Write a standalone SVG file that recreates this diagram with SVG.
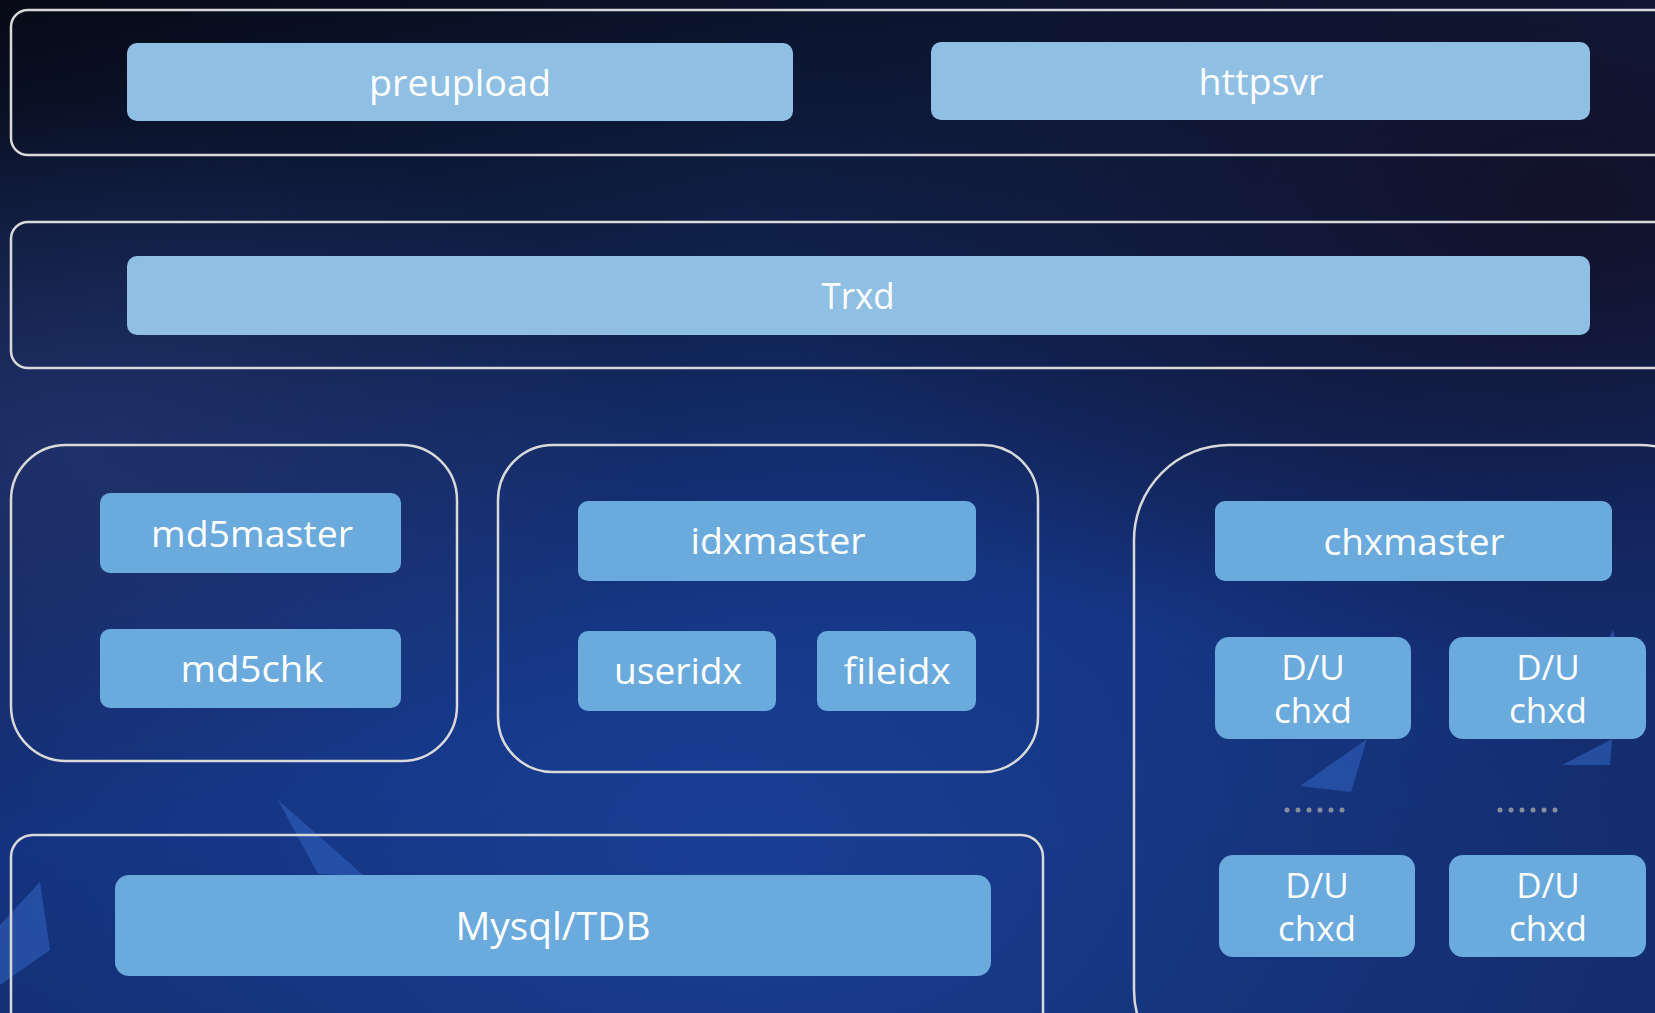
<svg xmlns="http://www.w3.org/2000/svg" width="1655" height="1013" viewBox="0 0 1655 1013">
<defs>
<linearGradient id="bg" x1="0" y1="0" x2="0.35" y2="1">
<stop offset="0" stop-color="#070a16"/>
<stop offset="0.35" stop-color="#0f2048"/>
<stop offset="0.75" stop-color="#13307a"/>
<stop offset="1" stop-color="#142d6c"/>
</linearGradient>
<radialGradient id="glow" cx="0.45" cy="0.85" r="0.55">
<stop offset="0" stop-color="#1a44a0" stop-opacity="0.75"/>
<stop offset="1" stop-color="#1a44a0" stop-opacity="0"/>
</radialGradient>
<radialGradient id="glow2" cx="0.05" cy="0.45" r="0.35">
<stop offset="0" stop-color="#2a3a7a" stop-opacity="0.6"/>
<stop offset="1" stop-color="#2a3a7a" stop-opacity="0"/>
</radialGradient>
<radialGradient id="dark" cx="0.95" cy="0.2" r="0.5">
<stop offset="0" stop-color="#120f24" stop-opacity="0.9"/>
<stop offset="1" stop-color="#120f24" stop-opacity="0"/>
</radialGradient>
<style>
.frame{fill:none;stroke:#d9d9d9;stroke-width:2.5}
.lt{fill:#8fc0e4}
.md{fill:#6aaadc}
.t{font-family:"Open Sans","Noto Sans","Liberation Sans",sans-serif;fill:#ffffff;text-anchor:middle}
.deco{fill:#2b58b0;opacity:0.75}
.dot{fill:#8a8f9c}
</style>
</defs>
<rect width="1655" height="1013" fill="url(#bg)"/>
<rect width="1655" height="1013" fill="url(#glow)"/>
<rect width="1655" height="1013" fill="url(#glow2)"/>
<rect width="1655" height="1013" fill="url(#dark)"/>
<g id="decor">
<polygon class="deco" points="278,800 318,874 364,876"/>
<polygon class="deco" points="40,882 50,950 0,985 0,925"/>
<polygon class="deco" points="1367,739 1300,786 1351,792"/>
<polygon class="deco" points="1612,739 1562,765 1610,765"/>
<polygon class="deco" points="1613,630 1608,640 1616,640"/>
</g>
<g id="layer-top">
<rect class="frame" x="11" y="10" width="1660" height="145" rx="17"/>
</g>
<g id="preupload">
<rect class="lt" x="127" y="43" width="666" height="78" rx="10"/>
<text class="t" x="460" y="96" font-size="36" textLength="182" lengthAdjust="spacingAndGlyphs">preupload</text>
</g>
<g id="httpsvr">
<rect class="lt" x="931" y="42" width="659" height="78" rx="10"/>
<text class="t" x="1261" y="95" font-size="36" textLength="125" lengthAdjust="spacingAndGlyphs">httpsvr</text>
</g>
<g id="layer-trxd">
<rect class="frame" x="11" y="222" width="1660" height="146" rx="17"/>
</g>
<g id="trxd">
<rect class="lt" x="127" y="256" width="1463" height="79" rx="10"/>
<text class="t" x="858" y="309" font-size="36" textLength="73" lengthAdjust="spacingAndGlyphs">Trxd</text>
</g>
<g id="group-md5">
<rect class="frame" x="11" y="445" width="446" height="316" rx="55"/>
</g>
<g id="md5master">
<rect class="md" x="100" y="493" width="301" height="80" rx="10"/>
<text class="t" x="252" y="547" font-size="36" textLength="202" lengthAdjust="spacingAndGlyphs">md5master</text>
</g>
<g id="md5chk">
<rect class="md" x="100" y="629" width="301" height="79" rx="10"/>
<text class="t" x="252" y="682" font-size="36" textLength="143" lengthAdjust="spacingAndGlyphs">md5chk</text>
</g>
<g id="group-idx">
<rect class="frame" x="498" y="445" width="540" height="327" rx="55"/>
</g>
<g id="idxmaster">
<rect class="md" x="578" y="501" width="398" height="80" rx="10"/>
<text class="t" x="778" y="554" font-size="36" textLength="175" lengthAdjust="spacingAndGlyphs">idxmaster</text>
</g>
<g id="useridx">
<rect class="md" x="578" y="631" width="198" height="80" rx="10"/>
<text class="t" x="678" y="684" font-size="36" textLength="128" lengthAdjust="spacingAndGlyphs">useridx</text>
</g>
<g id="fileidx">
<rect class="md" x="817" y="631" width="159" height="80" rx="10"/>
<text class="t" x="897" y="684" font-size="36" textLength="107" lengthAdjust="spacingAndGlyphs">fileidx</text>
</g>
<g id="group-chx">
<rect class="frame" x="1134" y="445" width="600" height="640" rx="95"/>
</g>
<g id="chxmaster">
<rect class="md" x="1215" y="501" width="397" height="80" rx="10"/>
<text class="t" x="1414" y="555" font-size="36" textLength="181" lengthAdjust="spacingAndGlyphs">chxmaster</text>
</g>
<g id="chxd-1">
<rect class="md" x="1215" y="637" width="196" height="102" rx="14"/>
<text class="t" x="1313" y="680" font-size="35">D/U</text>
<text class="t" x="1313" y="723" font-size="35">chxd</text>
</g>
<g id="chxd-2">
<rect class="md" x="1449" y="637" width="197" height="102" rx="14"/>
<text class="t" x="1548" y="680" font-size="35">D/U</text>
<text class="t" x="1548" y="723" font-size="35">chxd</text>
</g>
<g id="dots">
<circle class="dot" cx="1287" cy="810" r="2.5"/><circle class="dot" cx="1298" cy="810" r="2.5"/><circle class="dot" cx="1309" cy="810" r="2.5"/><circle class="dot" cx="1320" cy="810" r="2.5"/><circle class="dot" cx="1331" cy="810" r="2.5"/><circle class="dot" cx="1342" cy="810" r="2.5"/>
<circle class="dot" cx="1500" cy="810" r="2.5"/><circle class="dot" cx="1511" cy="810" r="2.5"/><circle class="dot" cx="1522" cy="810" r="2.5"/><circle class="dot" cx="1533" cy="810" r="2.5"/><circle class="dot" cx="1544" cy="810" r="2.5"/><circle class="dot" cx="1555" cy="810" r="2.5"/>
</g>
<g id="chxd-3">
<rect class="md" x="1219" y="855" width="196" height="102" rx="14"/>
<text class="t" x="1317" y="898" font-size="35">D/U</text>
<text class="t" x="1317" y="941" font-size="35">chxd</text>
</g>
<g id="chxd-4">
<rect class="md" x="1449" y="855" width="197" height="102" rx="14"/>
<text class="t" x="1548" y="898" font-size="35">D/U</text>
<text class="t" x="1548" y="941" font-size="35">chxd</text>
</g>
<g id="group-db">
<rect class="frame" x="11" y="835" width="1032" height="220" rx="22"/>
</g>
<g id="mysql">
<rect class="md" x="115" y="875" width="876" height="101" rx="14"/>
<text class="t" x="553" y="940" font-size="38" textLength="195" lengthAdjust="spacingAndGlyphs">Mysql/TDB</text>
</g>
<g id="connectors"/>
</svg>
